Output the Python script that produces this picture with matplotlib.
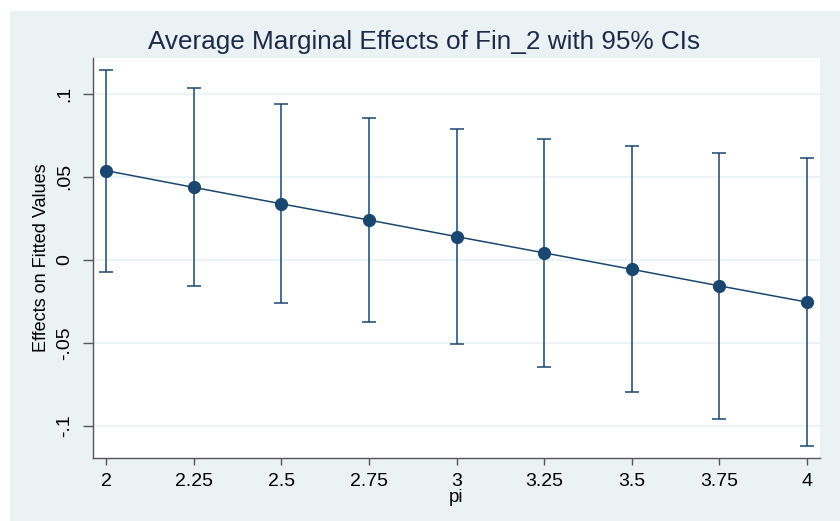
import numpy as np
import matplotlib.pyplot as plt
from matplotlib.patches import Rectangle

plt.rcParams['font.family'] = ['Liberation Sans', 'DejaVu Sans']

# datos
pi_vals = [2, 2.25, 2.5, 2.75, 3, 3.25, 3.5, 3.75, 4]
efecto = [0.0538, 0.0437, 0.0338, 0.0240, 0.0140, 0.0042, -0.0057, -0.0157, -0.0255]
ic_sup = [0.1146, 0.1034, 0.0938, 0.0857, 0.0789, 0.0731, 0.0687, 0.0646, 0.0614]
ic_inf = [-0.0074, -0.0159, -0.0259, -0.0375, -0.0506, -0.0647, -0.0799, -0.0958, -0.1124]

xticks = [2, 2.25, 2.5, 2.75, 3, 3.25, 3.5, 3.75, 4]
xtick_labels = ['2', '2.25', '2.5', '2.75', '3', '3.25', '3.5', '3.75', '4']
yticks = [-0.1, -0.05, 0, 0.05, 0.1]
ytick_labels = ['-.1', '-.05', '0', '.05', '.1']

azul = '#1A476F'
fondo = '#EAF2F3'

fig = plt.figure(figsize=(8.4, 5.21), dpi=100)
fig.patch.set_facecolor('white')
# fondo gris azulado de Stata
fig.add_artist(Rectangle((10 / 840, 0), 1 - 10 / 840, 1 - 11 / 521,
                         transform=fig.transFigure, facecolor=fondo,
                         edgecolor='none', zorder=-10))

ax = fig.add_axes([93 / 840, 1 - 458 / 521, 727 / 840, 400 / 521])
ax.set_facecolor('white')

x = np.array(pi_vals)
y = np.array(efecto)
err = [y - np.array(ic_inf), np.array(ic_sup) - y]

ax.errorbar(x, y, yerr=err, fmt='none', ecolor=azul, elinewidth=1.1,
            capsize=5, capthick=1.1, zorder=3)
ax.plot(x, y, '-', color=azul, linewidth=1.1, zorder=4)
ax.plot(x, y, 'o', color=azul, markersize=8.5, zorder=5)

ax.set_xlim(1.963, 4.037)
ax.set_ylim(-0.1195, 0.1217)
ax.set_xticks(xticks)
ax.set_xticklabels(xtick_labels, fontsize=14)
ax.set_yticks(yticks)
ax.set_yticklabels(ytick_labels, fontsize=14, rotation=90, va='center')

for yt in yticks:
    ax.axhline(yt, color=fondo, linewidth=1.2, zorder=1)

for s in ['top', 'right']:
    ax.spines[s].set_visible(False)
for s in ['left', 'bottom']:
    ax.spines[s].set_color('#555555')
    ax.spines[s].set_linewidth(1.0)
ax.tick_params(axis='x', direction='out', length=5, width=1, color='#555555', pad=6)
ax.tick_params(axis='y', direction='out', length=7, width=1, color='#555555', pad=7)

ax.set_xlabel('pi', fontsize=13.5, labelpad=-1)
ax.set_ylabel('Effects on Fitted Values', fontsize=13, labelpad=5)
fig.text(0.505, 1 - 42 / 521, 'Average Marginal Effects of Fin_2 with 95% CIs',
         fontsize=18.8, color='#1E2A4A', ha='center', va='center')

fig.savefig('out.png', dpi=100, facecolor=fig.get_facecolor())
